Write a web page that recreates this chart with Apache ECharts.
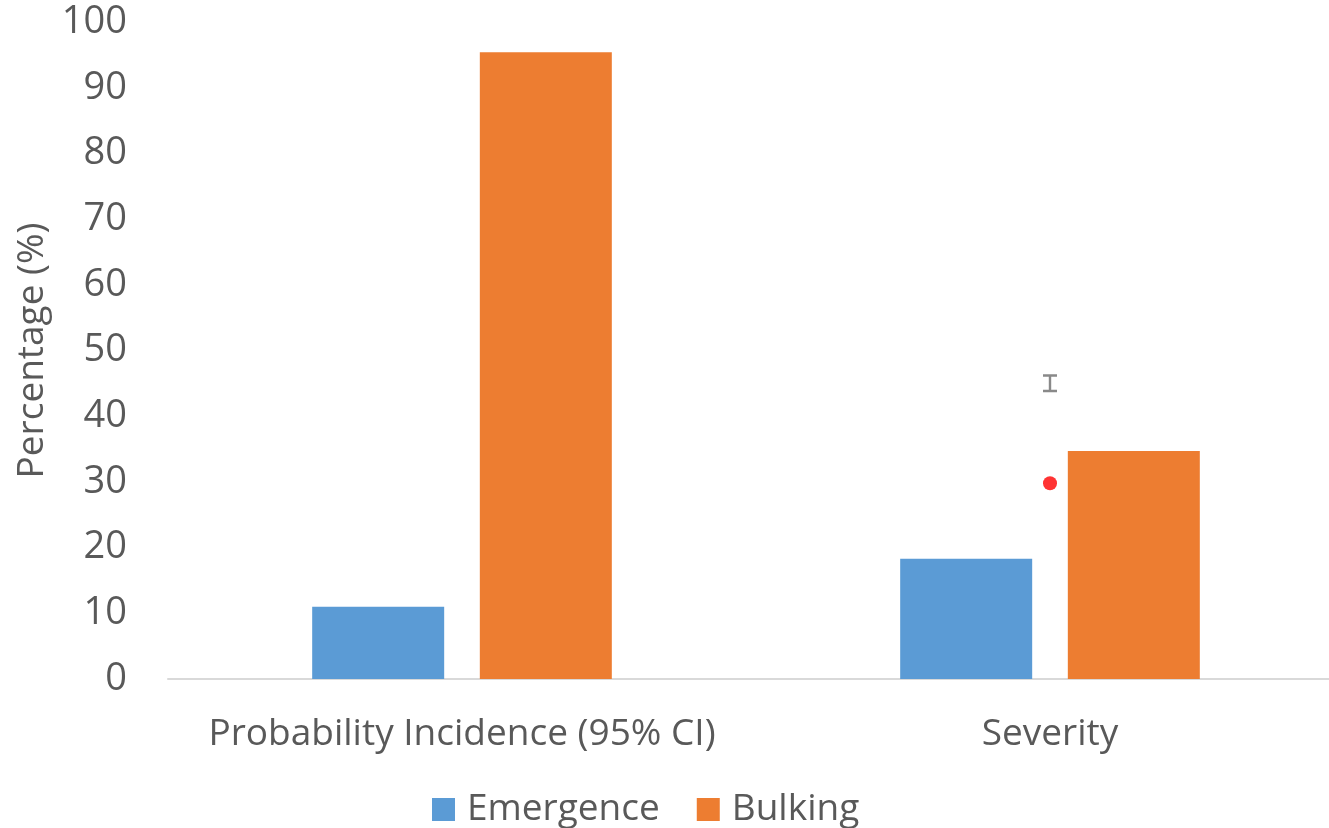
<!DOCTYPE html>
<html>
<head>
<meta charset="utf-8">
<script src="https://cdn.jsdelivr.net/npm/echarts@6/dist/echarts.min.js"></script>
<style>
  html, body { margin: 0; padding: 0; background: #fff; }
  #chart { width: 1329px; height: 828px; }
</style>
</head>
<body>
<div id="chart"></div>
<script>
// Categories and values
const categories = ['Probability Incidence (95% CI)', 'Severity'];
const emergence = [11, 18.3];
const bulking = [95.4, 34.7];
// Point markers drawn over the Severity group
const dotValues = [null, 29.8];
const beamValues = [null, 45];
const yTicks = { min: 0, max: 100, step: 10 };

const textColor = '#595959';
const font = 'Open Sans';

const chart = echarts.init(document.getElementById('chart'), null, { renderer: 'canvas' });
chart.setOption({
  backgroundColor: '#ffffff',
  animation: false,
  textStyle: { fontFamily: font, color: textColor },
  grid: { left: 168, right: -15, top: 22, bottom: 149, containLabel: false, outerBoundsMode: 'none' },
  legend: {
    data: ['Emergence', 'Bulking'],
    left: 427,
    top: 786,
    itemWidth: 23,
    itemHeight: 23,
    itemGap: 37,
    icon: 'rect',
    textStyle: { fontFamily: font, fontSize: 37, color: textColor, padding: [0, 0, 0, 7] }
  },
  xAxis: {
    type: 'category',
    data: categories,
    axisLine: { lineStyle: { color: '#d9d9d9', width: 2 } },
    axisTick: { show: false },
    axisLabel: { fontFamily: font, fontSize: 37, color: textColor, margin: 37, interval: 0, hideOverlap: false }
  },
  yAxis: {
    type: 'value',
    min: yTicks.min,
    max: yTicks.max,
    interval: yTicks.step,
    name: 'Percentage (%)',
    nameLocation: 'middle',
    nameGap: 116,
    nameRotate: 90,
    nameTextStyle: { fontFamily: font, fontSize: 37, color: textColor },
    axisLine: { show: false },
    axisTick: { show: false },
    splitLine: { show: false },
    axisLabel: { fontFamily: font, fontSize: 38, color: textColor, margin: 41 }
  },
  series: [
    {
      name: 'Emergence', type: 'bar', data: emergence,
      barWidth: 132, barGap: '27%', barCategoryGap: '49%',
      itemStyle: { color: '#5B9BD5' }
    },
    {
      name: 'Bulking', type: 'bar', data: bulking,
      barWidth: 132,
      itemStyle: { color: '#ED7D31' }
    },
    {
      name: 'dot', type: 'scatter', data: dotValues,
      symbol: 'circle', symbolSize: 14,
      itemStyle: { color: '#ff0000' }, z: 5
    },
    {
      name: 'beam', type: 'scatter', data: beamValues,
      symbol: 'path://M0,0h14v2.5h-14z M5.8,2.5h2.4v13h-2.4z M0,15.5h14v2.5h-14z',
      symbolSize: [14, 18],
      itemStyle: { color: '#6b6b6b' }, z: 5
    }
  ]
});
</script>
</body>
</html>
